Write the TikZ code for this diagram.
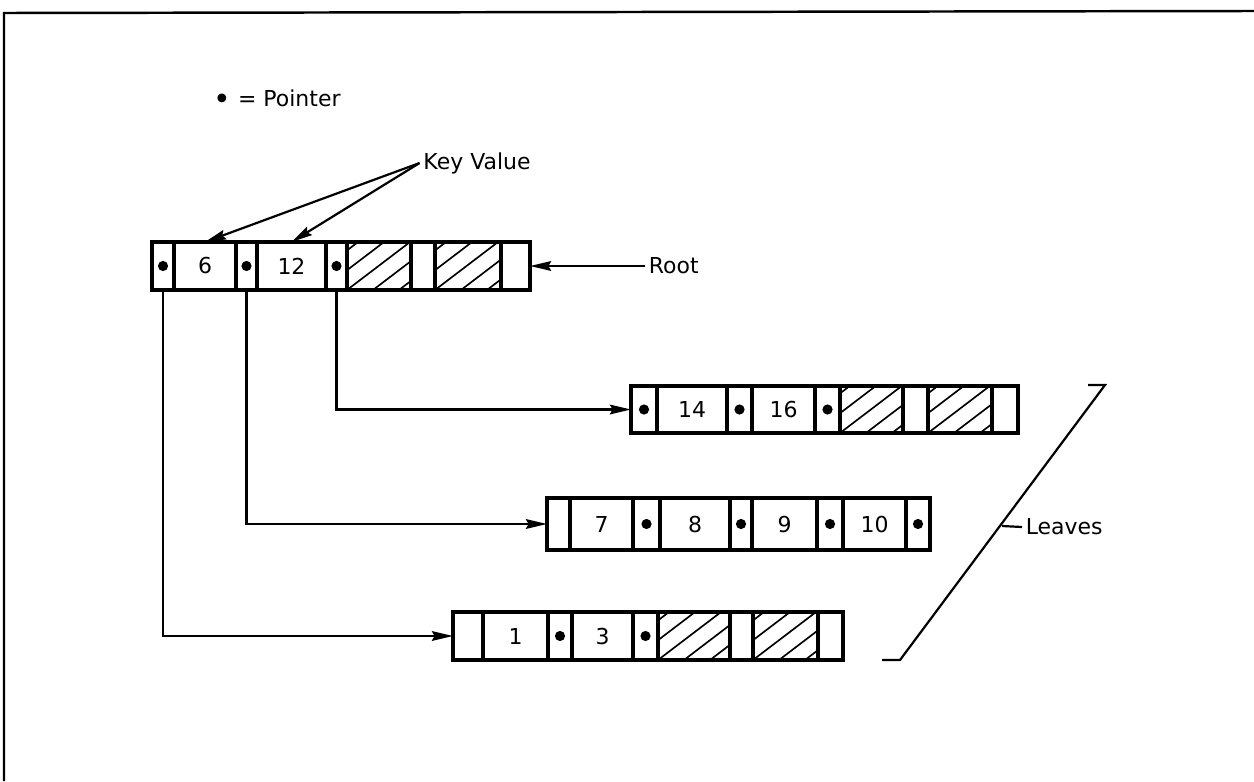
\documentclass[tikz,border=0pt]{standalone}
\usepackage{fontspec}
\setmainfont{DejaVu Sans}
\usetikzlibrary{arrows.meta,calc}
\newcommand\mkcell[7][cell]{\node[#1,minimum width={(#4-#3)*0.02cm},minimum height={(#6-#5)*0.02cm}] (#2) at ({(#3+#4)/2},{(#5+#6)/2}) {#7};}
\begin{document}
\begin{tikzpicture}[x=0.02cm,y=-0.02cm,
  font=\fontsize{12.5}{15}\selectfont,
  cell/.style={draw,line width=2.1pt,inner sep=0pt,outer sep=0pt},
  hatchcell/.style={cell,path picture={
     \foreach \k in {-2,...,2}{
       \draw[line width=0.95pt] ($(path picture bounding box.south west)+(\k*26,0)$) -- ++(130,-99);
     }}},
  conn/.style={line width=1.25pt,-{Stealth[length=12pt,width=5.5pt,inset=1.5pt]}},
  lbl/.style={inner sep=2pt}]
\useasboundingbox (0,0) rectangle (1254,781);
% frame
\draw[line width=1.4pt] (4,781) -- (4,13) -- (1254,11);
% legend
\node[lbl] (legend) at (277,100) {\raisebox{-1.7pt}{\fontsize{17}{15}\selectfont •} = Pointer};
% root
\mkcell{r1}{152}{174}{242}{290}{}
\mkcell{r2}{174}{236}{242}{290}{6}
\mkcell{r3}{236}{257}{242}{290}{}
\mkcell{r4}{257}{326}{242}{290}{12}
\mkcell{r5}{326}{347}{242}{290}{}
\mkcell[hatchcell]{r6}{347}{411}{242}{290}{}
\mkcell{r7}{411}{435}{242}{290}{}
\mkcell[hatchcell]{r8}{435}{501}{242}{290}{}
\mkcell{r9}{501}{530}{242}{290}{}
% leaf A
\mkcell{a1}{631}{657}{386}{433}{}
\mkcell{a2}{657}{727}{386}{433}{14}
\mkcell{a3}{727}{752}{386}{433}{}
\mkcell{a4}{752}{815}{386}{433}{16}
\mkcell{a5}{815}{840}{386}{433}{}
\mkcell[hatchcell]{a6}{840}{903}{386}{433}{}
\mkcell{a7}{903}{928}{386}{433}{}
\mkcell[hatchcell]{a8}{928}{992}{386}{433}{}
\mkcell{a9}{992}{1018}{386}{433}{}
% leaf B
\mkcell{b1}{547}{570}{498}{550}{}
\mkcell{b2}{570}{633}{498}{550}{7}
\mkcell{b3}{633}{660}{498}{550}{}
\mkcell{b4}{660}{730}{498}{550}{8}
\mkcell{b5}{730}{752}{498}{550}{}
\mkcell{b6}{752}{817}{498}{550}{9}
\mkcell{b7}{817}{843}{498}{550}{}
\mkcell{b8}{843}{906}{498}{550}{10}
\mkcell{b9}{906}{930}{498}{550}{}
% leaf C
\mkcell{c1}{453}{483}{612}{660}{}
\mkcell{c2}{483}{548}{612}{660}{1}
\mkcell{c3}{548}{572}{612}{660}{}
\mkcell{c4}{572}{633}{612}{660}{3}
\mkcell{c5}{633}{658}{612}{660}{}
\mkcell[hatchcell]{c6}{658}{730}{612}{660}{}
\mkcell{c7}{730}{753}{612}{660}{}
\mkcell[hatchcell]{c8}{753}{818}{612}{660}{}
\mkcell{c9}{818}{843}{612}{660}{}
% pointer dots
\foreach \n in {r1,r3,r5,a1,a3,a5,b3,b5,b7,b9,c3,c5}
  \fill (\n) circle[radius=2.9pt];
% pointers
\draw[conn] (r5.south) |- (a1.west);
\draw[conn] (r3.south) |- (b1.west);
\draw[conn] (r1.south) |- (c1.west);
% key value
\node[lbl] (kv) at (477,163) {Key Value};
\draw[conn] (kv.west) -- (r2.north);
\draw[conn] (kv.west) -- (r4.north);
% root label
\node[lbl,anchor=west] (rootlbl) at (645,266) {Root};
\draw[conn] (rootlbl.west) -- (r9.east);
% leaves bracket
\coordinate (brA) at (1088,385);
\coordinate (brB) at (1105,385);
\coordinate (brC) at (900,660);
\coordinate (brD) at (882,660);
\coordinate (brT) at (1002,526);
\draw[line width=1.25pt] (brA) -- (brB) -- (brC) -- (brD);
\node[lbl,anchor=west] (lv) at (1022,527) {Leaves};
\draw[line width=1.25pt] (brT) -- (lv.west);
\end{tikzpicture}
\end{document}
